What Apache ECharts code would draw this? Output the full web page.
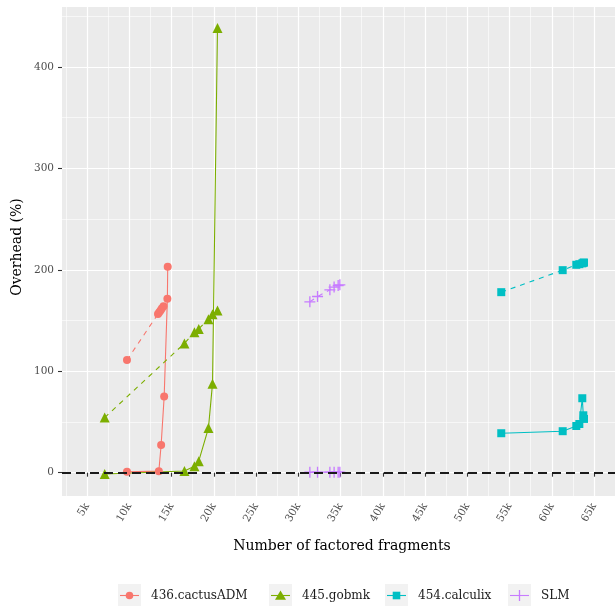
<!DOCTYPE html>
<html>
<head>
<meta charset="utf-8">
<script src="https://cdn.jsdelivr.net/npm/echarts@6/dist/echarts.min.js"></script>
<style>
html,body{margin:0;padding:0;background:#fff;}
#chart{width:616px;height:606px;}
</style>
</head>
<body>
<div id="chart"></div>
<script>
// ---- data ----
const seriesNames = ['436.cactusADM', '445.gobmk', '454.calculix', 'SLM'];

const cactusX      = [9730, 13500, 13770, 14130, 14510, 14550];
const cactusSolid  = [0.8, 1.5, 27.3, 75, 171.4, 203];
const cactusDashX  = [9730, 13400, 13550, 13700, 13850, 14050];
const cactusDashed = [111, 156.5, 158.3, 160, 162, 164];

const gobmkX      = [7090, 16530, 17710, 18220, 19370, 19850, 20440];
const gobmkSolid  = [-1.3, 1.7, 6.3, 11.3, 44, 87.8, 438.5];
const gobmkDashed = [54.3, 127.5, 138.5, 141.8, 151.3, 156.3, 160];

const calculixX      = [54020, 61290, 62900, 63260, 63610, 63730, 63810];
const calculixSolid  = [38.9, 40.9, 46, 48, 73.4, 56.6, 53];
const calculixDashed = [178, 199.7, 205, 205.6, 206.4, 207, 207.2];

const slmX      = [31370, 32280, 33740, 34240, 34720, 34920];
const slmSolid  = [0.4, 0.4, 0.5, 0.5, 0.5, 0.5];
const slmDashed = [168.5, 173.7, 180.3, 183, 184.6, 185.2];

const xTickValues = [5000,10000,15000,20000,25000,30000,35000,40000,45000,50000,55000,60000,65000];
const xTickLabels = ['5k','10k','15k','20k','25k','30k','35k','40k','45k','50k','55k','60k','65k'];
const xMinorValues = [2500,7500,12500,17500,22500,27500,32500,37500,42500,47500,52500,57500,62500];
const yTickValues = [0,100,200,300,400];
const yTickLabels = ['0','100','200','300','400'];
const yMinorValues = [50,150,250,350,450];

// ---- styling ----
const colors = ['#F8766D', '#7CAE00', '#00BFC4', '#C77CFF'];
const PLUS = 'path://M4.4,0 H5.6 V4.4 H10 V5.6 H5.6 V10 H4.4 V5.6 H0 V4.4 H4.4 Z';
const symbols = ['circle', 'triangle', 'rect', PLUS];
const symbolSizes = [8, 10, 8, 11];
const FONT = 'DejaVu Serif';
const XMIN = 2040, XMAX = 67480, YMIN = -23, YMAX = 459.2;

function pairs(xs, ys) { return xs.map((x, i) => [x, ys[i]]); }

function mkSeries(idx, xs, ys, dashed) {
  return {
    type: 'line',
    name: seriesNames[idx] + (dashed ? ' (d)' : ''),
    data: pairs(xs, ys),
    symbol: symbols[idx],
    symbolSize: symbolSizes[idx],
    showAllSymbol: true,
    animation: false,
    itemStyle: { color: colors[idx] },
    lineStyle: { color: colors[idx], width: 1.1, type: dashed ? [5, 5] : 'solid' },
    z: 3
  };
}

const series = [
  mkSeries(0, cactusX, cactusSolid, false),
  mkSeries(0, cactusDashX, cactusDashed, true),
  mkSeries(1, gobmkX, gobmkSolid, false),
  mkSeries(1, gobmkX, gobmkDashed, true),
  mkSeries(2, calculixX, calculixSolid, false),
  mkSeries(2, calculixX, calculixDashed, true),
  mkSeries(3, slmX, slmSolid, false),
  mkSeries(3, slmX, slmDashed, true),
  {
    type: 'line', data: [], z: 10, animation: false, silent: true,
    markLine: {
      silent: true, symbol: ['none', 'none'], animation: false,
      label: { show: false },
      lineStyle: { color: '#1a1a1a', width: 2, type: [9, 5] },
      data: [{ yAxis: 0 }]
    }
  }
];

// ---- legend graphics ----
const legendKeyX = [118, 269, 385, 508];
const legendY = 595.5;
const graphic = [];
seriesNames.forEach((nm, i) => {
  const kx = legendKeyX[i];
  graphic.push({ type: 'rect', shape: { x: kx, y: 584, width: 23, height: 23 }, style: { fill: '#F2F2F2' }, silent: true });
  graphic.push({ type: 'line', shape: { x1: kx + 2, y1: legendY, x2: kx + 21, y2: legendY }, style: { stroke: colors[i], lineWidth: 1.1 }, silent: true });
  const cx = kx + 11.5;
  if (i === 0) graphic.push({ type: 'circle', shape: { cx: cx, cy: legendY, r: 3.8 }, style: { fill: colors[i] } });
  if (i === 1) graphic.push({ type: 'polygon', shape: { points: [[cx, legendY - 5], [cx + 5.5, legendY + 4.2], [cx - 5.5, legendY + 4.2]] }, style: { fill: colors[i] } });
  if (i === 2) graphic.push({ type: 'rect', shape: { x: cx - 3.8, y: legendY - 3.8, width: 7.6, height: 7.6 }, style: { fill: colors[i] } });
  if (i === 3) graphic.push({ type: 'line', shape: { x1: cx, y1: legendY - 5.5, x2: cx, y2: legendY + 5.5 }, style: { stroke: colors[i], lineWidth: 1.3 } });
  graphic.push({ type: 'text', x: kx + 33, y: legendY, style: { text: nm, font: '12px "' + FONT + '"', fill: '#1a1a1a', verticalAlign: 'middle', align: 'left' } });
});
graphic.push({ type: 'text', x: 342, y: 546, style: { text: 'Number of factored fragments', font: '14px "' + FONT + '"', fill: '#000', align: 'center', verticalAlign: 'middle' } });
graphic.push({ type: 'text', x: 17, y: 247, rotation: Math.PI / 2, style: { text: 'Overhead (%)', font: '14px "' + FONT + '"', fill: '#000', align: 'center', verticalAlign: 'middle' } });

const labelStyle = { color: '#4D4D4D', fontFamily: FONT, fontSize: 10.5 };

const option = {
  animation: false,
  backgroundColor: '#ffffff',
  grid: { left: 62, right: 1, top: 7, bottom: 110, show: true, backgroundColor: '#EBEBEB', borderWidth: 0 },
  xAxis: [
    {
      type: 'value', min: XMIN, max: XMAX, position: 'bottom',
      axisLine: { show: false },
      axisTick: { show: true, customValues: xTickValues, length: 4, lineStyle: { color: '#333', width: 1.1 } },
      axisLabel: Object.assign({ customValues: xTickValues, rotate: 60, margin: 8,
        formatter: v => xTickLabels[xTickValues.indexOf(v)] }, labelStyle),
      splitLine: { show: true, lineStyle: { color: '#ffffff', width: 1.2 } },
      z: 1
    },
    {
      type: 'value', min: XMIN, max: XMAX, position: 'bottom',
      axisLine: { show: false },
      axisTick: { show: false, customValues: xMinorValues },
      axisLabel: { show: false, customValues: xMinorValues },
      splitLine: { show: true, lineStyle: { color: '#ffffff', width: 0.6 } },
      z: 0
    }
  ],
  yAxis: [
    {
      type: 'value', min: YMIN, max: YMAX,
      axisLine: { show: false },
      axisTick: { show: true, customValues: yTickValues, length: 4, lineStyle: { color: '#333', width: 1.1 } },
      axisLabel: Object.assign({ customValues: yTickValues, margin: 8,
        formatter: v => yTickLabels[yTickValues.indexOf(v)] }, labelStyle),
      splitLine: { show: true, lineStyle: { color: '#ffffff', width: 1.2 } },
      z: 1
    },
    {
      type: 'value', min: YMIN, max: YMAX, position: 'left',
      axisLine: { show: false },
      axisTick: { show: false, customValues: yMinorValues },
      axisLabel: { show: false, customValues: yMinorValues },
      splitLine: { show: true, lineStyle: { color: '#ffffff', width: 0.6 } },
      z: 0
    }
  ],
  series: series,
  graphic: graphic
};

const chart = echarts.init(document.getElementById('chart'), null, { renderer: 'canvas' });
chart.setOption(option);
</script>
</body>
</html>
